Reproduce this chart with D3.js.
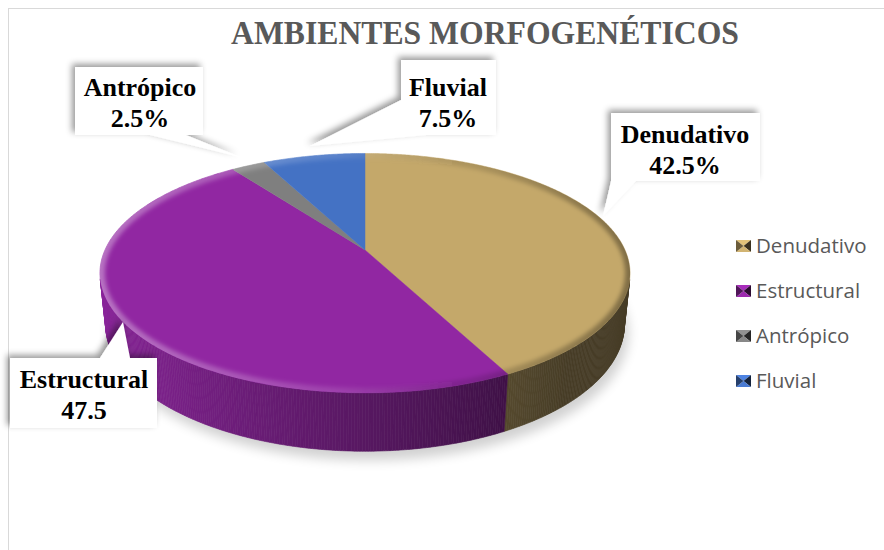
<!DOCTYPE html>
<html>
<head>
<meta charset="utf-8">
<script src="https://cdn.jsdelivr.net/npm/d3@7"></script>
<style>
  html, body { margin: 0; padding: 0; background: #fff; }
  svg { display: block; }
</style>
</head>
<body>
<div id="chart"></div>
<script>
/* 3D pie "Ambientes morfogenéticos" — perspective pie drawn with d3.pie */

var title = 'AMBIENTES MORFOGENÉTICOS';
var categories = ['Denudativo', 'Estructural', 'Antrópico', 'Fluvial'];
var values = [42.5, 47.5, 2.5, 7.5];
var labelSuffix = ['%', '', '%', '%'];
var colors = ['#c4a86a', '#9127a2', '#7f7f7f', '#4472c4'];

var W = 884, H = 550;

/* perspective camera for the pie disc */
var CX = 365, CY = 250, F = 1204, DIST = 4.63, TILT = 26.3 * Math.PI / 180, THICK = 0.22;
var sinT = Math.sin(TILT), cosT = Math.cos(TILT);

function proj(theta, level) {
  var x = Math.sin(theta), z = Math.cos(theta), y = -THICK * level;
  var Y = z * sinT + y * cosT;
  var depth = DIST + z * cosT - y * sinT;
  return [CX + F * x / depth, CY - F * Y / depth];
}

function facing(theta) {
  return Math.cos(theta) < -1 / (DIST * cosT);
}

function shade(hex, k) {
  var c = d3.rgb(hex);
  return d3.rgb(c.r * k, c.g * k, c.b * k).toString();
}

/* callout boxes: rect [x, y, w, h], pointer base points and tip */
var callouts = [
  {rect: [611, 113, 149, 68], poly: function(r) {
    return [[r.x0, r.y0], [r.x1, r.y0], [r.x1, r.y1], [636, r.y1], [603, 216], [r.x0, r.y1]]; },
    tx: 685, ty: 143},
  {rect: [10, 358, 147, 70], poly: function(r) {
    return [[r.x0, r.y0], [100, r.y0], [123, 322], [130, r.y0], [r.x1, r.y0], [r.x1, r.y1], [r.x0, r.y1]]; },
    tx: 84, ty: 388},
  {rect: [75, 67, 128, 68], poly: function(r) {
    return [[r.x0, r.y0], [r.x1, r.y0], [r.x1, r.y1], [186, r.y1], [240, 157], [150, r.y1], [r.x0, r.y1]]; },
    tx: 140, ty: 96},
  {rect: [401, 60, 95, 75], poly: function(r) {
    return [[r.x0, r.y0], [r.x1, r.y0], [r.x1, r.y1], [426, r.y1], [310, 146], [r.x0, 100]]; },
    tx: 448, ty: 96}
];

var legendY = [246, 291, 336, 381];

var svg = d3.select('#chart').append('svg')
  .attr('width', W)
  .attr('height', H);

var defs = svg.append('defs');

defs.append('filter').attr('id', 'boxShadow')
  .attr('x', '-30%').attr('y', '-30%').attr('width', '160%').attr('height', '160%')
  .append('feDropShadow')
  .attr('dx', -3).attr('dy', -3).attr('stdDeviation', 3)
  .attr('flood-color', '#000').attr('flood-opacity', 0.4);

defs.append('filter').attr('id', 'blur6')
  .attr('x', '-20%').attr('y', '-20%').attr('width', '140%').attr('height', '140%')
  .append('feGaussianBlur').attr('stdDeviation', 6);

defs.append('filter').attr('id', 'blur2')
  .append('feGaussianBlur').attr('stdDeviation', 2);

var rimGrad = defs.append('linearGradient').attr('id', 'rimGrad')
  .attr('gradientUnits', 'userSpaceOnUse')
  .attr('x1', 100).attr('y1', 0).attr('x2', 630).attr('y2', 0);
rimGrad.append('stop').attr('offset', 0).attr('stop-color', '#fff').attr('stop-opacity', 0.35);
rimGrad.append('stop').attr('offset', 0.45).attr('stop-color', '#fff').attr('stop-opacity', 0.12);
rimGrad.append('stop').attr('offset', 0.7).attr('stop-color', '#000').attr('stop-opacity', 0.12);
rimGrad.append('stop').attr('offset', 1).attr('stop-color', '#000').attr('stop-opacity', 0.35);

/* frame */
svg.append('rect')
  .attr('x', 8.5).attr('y', 8.5)
  .attr('width', 1000).attr('height', 1000)
  .attr('fill', 'none')
  .attr('stroke', '#d9d9d9');

/* title */
svg.append('text')
  .attr('x', 485).attr('y', 44)
  .attr('text-anchor', 'middle')
  .attr('font-family', '"Liberation Serif", "Times New Roman", serif')
  .attr('font-weight', 'bold')
  .attr('font-size', 33)
  .attr('textLength', 508)
  .attr('lengthAdjust', 'spacingAndGlyphs')
  .attr('fill', '#595959')
  .text(title);

var pie = d3.pie().sort(null).value(function(d) { return d; });
var arcs = pie(values);

var line = d3.line();
var STEP = Math.PI / 360;

function arcPoints(a0, a1, level) {
  var pts = [];
  var n = Math.max(2, Math.ceil((a1 - a0) / STEP));
  for (var i = 0; i <= n; i++) pts.push(proj(a0 + (a1 - a0) * i / n, level));
  return pts;
}

var gPie = svg.append('g');

/* soft floor shadow */
gPie.append('path')
  .attr('d', line(arcPoints(0, 2 * Math.PI, 1)) + 'Z')
  .attr('transform', 'translate(4,9)')
  .attr('fill', '#000')
  .attr('opacity', 0.18)
  .attr('filter', 'url(#blur6)');

/* outer walls */
var gWall = gPie.append('g');
arcs.forEach(function(a, i) {
  var n = Math.max(1, Math.ceil((a.endAngle - a.startAngle) / STEP));
  for (var j = 0; j < n; j++) {
    var t0 = a.startAngle + (a.endAngle - a.startAngle) * j / n;
    var t1 = a.startAngle + (a.endAngle - a.startAngle) * (j + 1) / n;
    var tm = (t0 + t1) / 2;
    if (!facing(tm)) continue;
    var k = Math.max(0.36, 0.6 - 0.36 * Math.sin(tm));
    var c = shade(colors[i], k);
    gWall.append('path')
      .attr('d', line([proj(t0, 0), proj(t1, 0), proj(t1, 1), proj(t0, 1)]) + 'Z')
      .attr('fill', c)
      .attr('stroke', c)
      .attr('stroke-width', 0.6);
  }
});

/* top faces */
var apex = [CX, CY];
gPie.selectAll('path.top')
  .data(arcs)
  .join('path')
  .attr('class', 'top')
  .attr('d', function(a) {
    return line([apex].concat(arcPoints(a.startAngle, a.endAngle, 0))) + 'Z';
  })
  .attr('fill', function(a, i) { return colors[i]; })
  .attr('stroke', function(a, i) { return colors[i]; })
  .attr('stroke-width', 0.5);

/* bevel rim on the top edge */
var topOutline = line(arcPoints(0, 2 * Math.PI, 0)) + 'Z';
defs.append('clipPath').attr('id', 'topClip')
  .append('path').attr('d', topOutline);
gPie.append('path')
  .attr('d', topOutline)
  .attr('fill', 'none')
  .attr('stroke', 'url(#rimGrad)')
  .attr('stroke-width', 10)
  .attr('clip-path', 'url(#topClip)')
  .attr('filter', 'url(#blur2)');

/* callouts */
var gCall = svg.append('g');
callouts.forEach(function(c, i) {
  var r = {x0: c.rect[0], y0: c.rect[1], x1: c.rect[0] + c.rect[2], y1: c.rect[1] + c.rect[3]};
  gCall.append('path')
    .attr('d', line(c.poly(r)) + 'Z')
    .attr('fill', '#fff')
    .attr('filter', 'url(#boxShadow)');
  var t = gCall.append('text')
    .attr('text-anchor', 'middle')
    .attr('font-family', '"Liberation Serif", "Times New Roman", serif')
    .attr('font-weight', 'bold')
    .attr('font-size', 26)
    .attr('fill', '#000');
  t.append('tspan').attr('x', c.tx).attr('y', c.ty).text(categories[i]);
  t.append('tspan').attr('x', c.tx).attr('y', c.ty + 31).text(values[i] + labelSuffix[i]);
});

/* legend */
var gLeg = svg.append('g');
categories.forEach(function(name, i) {
  var x = 736, y = legendY[i] - 6, w = 15, h = 12, mx = x + w / 2, my = y + h / 2;
  var base = colors[i];
  var tris = [
    [[x, y], [x + w, y], [mx, my], d3.rgb(base).brighter(0.4)],
    [[x + w, y], [x + w, y + h], [mx, my], shade(base, 0.3)],
    [[x, y + h], [x + w, y + h], [mx, my], d3.rgb(base).brighter(0.2)],
    [[x, y], [x, y + h], [mx, my], shade(base, 0.55)]
  ];
  tris.forEach(function(tr) {
    gLeg.append('path')
      .attr('d', line([tr[0], tr[1], tr[2]]) + 'Z')
      .attr('fill', tr[3]);
  });
  gLeg.append('text')
    .attr('x', 756).attr('y', legendY[i])
    .attr('dy', '0.36em')
    .attr('font-family', '"Open Sans", "Noto Sans", sans-serif')
    .attr('font-size', 20.5)
    .attr('fill', '#595959')
    .text(name);
});
</script>
</body>
</html>
